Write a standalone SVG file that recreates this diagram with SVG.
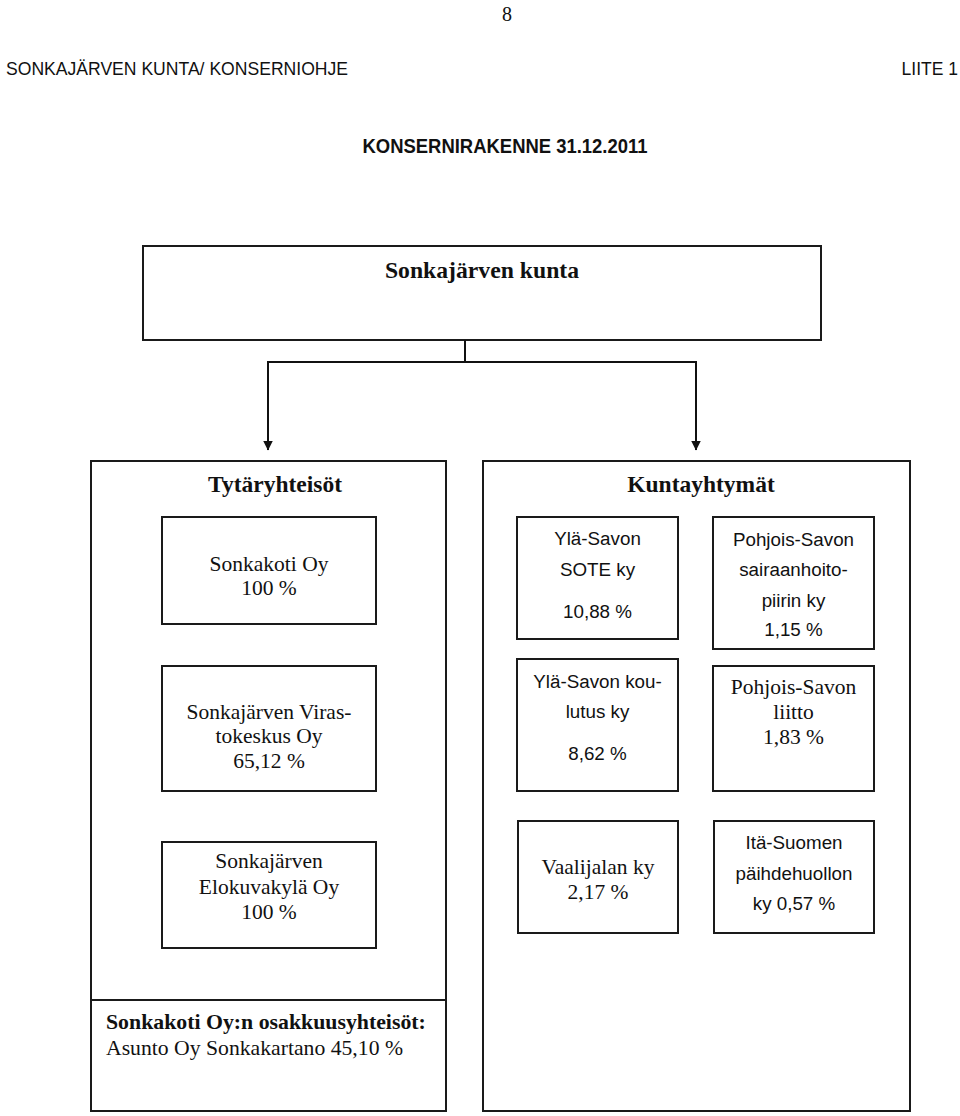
<svg xmlns="http://www.w3.org/2000/svg" width="960" height="1116" viewBox="0 0 960 1116">
<style>
.box{fill:#fff;stroke:#1a1a1a;stroke-width:2}
.serif{font-family:'Liberation Serif','Times New Roman',serif;font-size:21.5px;fill:#111;text-anchor:middle}
.sans{font-family:'Liberation Sans',Arial,sans-serif;font-size:18.8px;fill:#111;text-anchor:middle}
.title{font-family:'Liberation Serif','Times New Roman',serif;font-weight:bold;font-size:23.5px;fill:#111;text-anchor:middle}
.hdr{font-family:'Liberation Sans',Arial,sans-serif;font-size:17.5px;fill:#111}
.conn{fill:none;stroke:#111;stroke-width:2}
</style>
<defs>
<marker id="arr" markerUnits="userSpaceOnUse" markerWidth="10" markerHeight="10" viewBox="0 0 10 10" refX="9.5" refY="5" orient="auto">
<path d="M0,0 L10,5 L0,10 z" fill="#111"/>
</marker>
</defs>
<rect width="960" height="1116" fill="#fff"/>

<g id="header">
<text x="507" y="21" font-family="'Liberation Serif','Times New Roman',serif" font-size="20" fill="#111" text-anchor="middle">8</text>
<text class="hdr" x="6" y="75" textLength="342" lengthAdjust="spacingAndGlyphs">SONKAJÄRVEN KUNTA/ KONSERNIOHJE</text>
<text class="hdr" x="958" y="75" text-anchor="end">LIITE 1</text>
<text x="505" y="153" font-family="'Liberation Sans',Arial,sans-serif" font-weight="bold" font-size="20" fill="#111" text-anchor="middle" textLength="285" lengthAdjust="spacingAndGlyphs">KONSERNIRAKENNE 31.12.2011</text>
</g>

<g id="kunta">
<rect class="box" x="143" y="246" width="678" height="94"/>
<text class="title" x="482" y="278" style="font-size:23.7px">Sonkajärven kunta</text>
</g>

<g id="connectors">
<path class="conn" d="M465,340 V362"/>
<path class="conn" d="M465,362 H268 V450" marker-end="url(#arr)"/>
<path class="conn" d="M465,362 H696 V450" marker-end="url(#arr)"/>
</g>

<g id="tytaryhteisot">
<rect class="box" x="91" y="461" width="355" height="650"/>
<line x1="91" y1="1000" x2="446" y2="1000" stroke="#1a1a1a" stroke-width="2"/>
<text class="title" x="275" y="492">Tytäryhteisöt</text>
</g>

<g id="kuntayhtymat">
<rect class="box" x="483" y="461" width="427" height="650"/>
<text class="title" x="701" y="492">Kuntayhtymät</text>
</g>

<g id="sonkakoti">
<rect class="box" x="162" y="517" width="214" height="107"/>
<text class="serif" x="269" y="571">Sonkakoti Oy</text>
<text class="serif" x="269" y="595">100 %</text>
</g>

<g id="virastokeskus">
<rect class="box" x="162" y="666" width="214" height="125"/>
<text class="serif" x="269" y="719">Sonkajärven Viras-</text>
<text class="serif" x="269" y="743">tokeskus Oy</text>
<text class="serif" x="269" y="768">65,12 %</text>
</g>

<g id="elokuvakyla">
<rect class="box" x="162" y="842" width="214" height="106"/>
<text class="serif" x="269" y="868">Sonkajärven</text>
<text class="serif" x="269" y="894">Elokuvakylä Oy</text>
<text class="serif" x="269" y="919">100 %</text>
</g>

<g id="osakkuus">
<text x="106" y="1029" font-family="'Liberation Serif','Times New Roman',serif" font-weight="bold" font-size="21.8px" fill="#111">Sonkakoti Oy:n osakkuusyhteisöt:</text>
<text x="106" y="1055" font-family="'Liberation Serif','Times New Roman',serif" font-size="21.7px" fill="#111">Asunto Oy Sonkakartano 45,10 %</text>
</g>

<g id="sote">
<rect class="box" x="517" y="517" width="161" height="122"/>
<text class="sans" x="597.5" y="545">Ylä-Savon</text>
<text class="sans" x="597.5" y="576">SOTE ky</text>
<text class="sans" x="597.5" y="618">10,88 %</text>
</g>

<g id="pshp">
<rect class="box" x="713" y="517" width="161" height="132"/>
<text class="sans" x="793.5" y="546">Pohjois-Savon</text>
<text class="sans" x="793.5" y="576">sairaanhoito-</text>
<text class="sans" x="793.5" y="607">piirin ky</text>
<text class="sans" x="793.5" y="636">1,15 %</text>
</g>

<g id="koulutus">
<rect class="box" x="517" y="659" width="161" height="132"/>
<text class="sans" x="597.5" y="688">Ylä-Savon kou-</text>
<text class="sans" x="597.5" y="718">lutus ky</text>
<text class="sans" x="597.5" y="760">8,62 %</text>
</g>

<g id="liitto">
<rect class="box" x="713" y="666" width="161" height="125"/>
<text class="serif" x="793.5" y="694">Pohjois-Savon</text>
<text class="serif" x="793.5" y="719">liitto</text>
<text class="serif" x="793.5" y="744">1,83 %</text>
</g>

<g id="vaalijala">
<rect class="box" x="518" y="821" width="160" height="112"/>
<text class="serif" x="598" y="874">Vaalijalan ky</text>
<text class="serif" x="598" y="899">2,17 %</text>
</g>

<g id="itasuomi">
<rect class="box" x="714" y="821" width="160" height="112"/>
<text class="sans" x="794" y="849">Itä-Suomen</text>
<text class="sans" x="794" y="880">päihdehuollon</text>
<text class="sans" x="794" y="910">ky 0,57 %</text>
</g>
</svg>
